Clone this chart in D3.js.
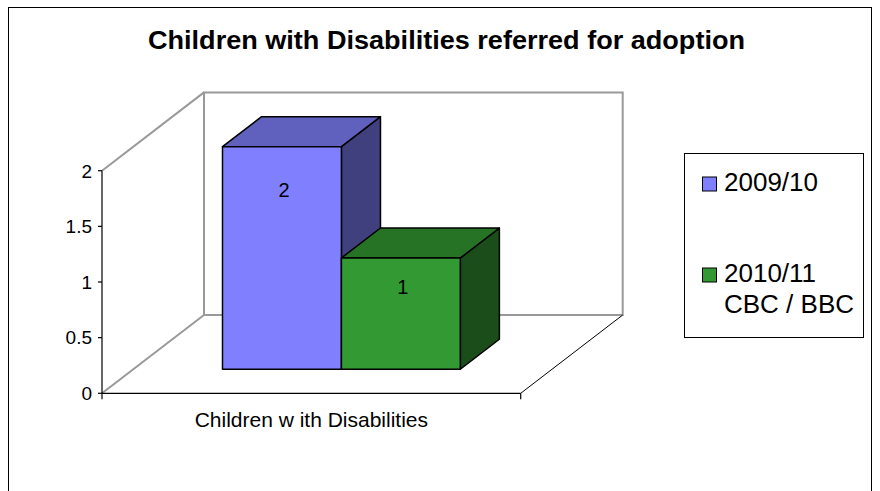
<!DOCTYPE html>
<html>
<head>
<meta charset="utf-8">
<script src="https://cdn.jsdelivr.net/npm/d3@7/dist/d3.min.js"></script>
<style>
  html, body { margin: 0; padding: 0; background: #fff; }
  svg { display: block; font-family: "Liberation Sans", Arial, sans-serif; }
</style>
</head>
<body>
<svg id="chart" width="880" height="491"></svg>
<script>
// ---- data ----
const title = "Children with Disabilities referred for adoption";
const categories = ["Children w ith Disabilities"];
const seriesNames = ["2009/10", "2010/11\nCBC / BBC"];
const seriesValues = [[2], [1]];
const yTicks = [0, 0.5, 1, 1.5, 2];
const yTickLabels = ["0", "0.5", "1", "1.5", "2"];

// ---- styles ----
const frontColors = ["#8080FF", "#339933"];
const topColors = ["#6060BF", "#267326"];
const sideColors = ["#40407F", "#1A4D1A"];

const svg = d3.select("#chart");

// outer chart border
svg.append("rect").attr("x", 8.5).attr("y", 7.5).attr("width", 863).attr("height", 500)
  .attr("fill", "none").attr("stroke", "#000").attr("stroke-width", 1);

// title
svg.append("text").attr("x", 446.5).attr("y", 49).attr("text-anchor", "middle")
  .attr("font-size", 26).attr("font-weight", "bold")
  .attr("textLength", 597).attr("lengthAdjust", "spacingAndGlyphs").text(title);

// 3D geometry
const xLeft = 102, xRight = 520.7;
const DX = 102, DY = -78.3; // full depth offset
const y = d3.scaleLinear().domain([0, 2]).range([393.3, 170.7]);
const x = d3.scaleBand().domain(categories).range([xLeft, xRight]);
const P = (px, py, f) => [px + f * DX, py + f * DY];
const line = d3.line();

const gray = "#999";
const yTop = y(yTicks[yTicks.length - 1]), y0 = y(0);
// back wall
const bw = [P(xLeft, yTop, 1), P(xRight, yTop, 1), P(xRight, y0, 1), P(xLeft, y0, 1)];
svg.append("path").attr("d", line(bw) + "Z").attr("fill", "none")
  .attr("stroke", gray).attr("stroke-width", 2);
// side wall top and floor left edges
svg.append("path").attr("d", line([[xLeft, yTop], P(xLeft, yTop, 1)]))
  .attr("stroke", gray).attr("stroke-width", 2).attr("fill", "none");
svg.append("path").attr("d", line([[xLeft, y0], P(xLeft, y0, 1)]))
  .attr("stroke", gray).attr("stroke-width", 2).attr("fill", "none");
// floor right edge
svg.append("path").attr("d", line([[xRight, y0], P(xRight, y0, 1)]))
  .attr("stroke", "#000").attr("stroke-width", 1).attr("fill", "none");

// axes
svg.append("path").attr("d", line([[xLeft, yTop], [xLeft, y0]]))
  .attr("stroke", "#000").attr("stroke-width", 1.2).attr("fill", "none");
svg.append("path").attr("d", line([[xLeft, y0], [xRight, y0]]))
  .attr("stroke", "#000").attr("stroke-width", 1.2).attr("fill", "none");
yTicks.forEach((t, i) => {
  svg.append("path").attr("d", line([[xLeft - 4, y(t)], [xLeft, y(t)]]))
    .attr("stroke", "#000").attr("stroke-width", 1.2);
  svg.append("text").attr("x", 92).attr("y", y(t)).attr("dy", "0.36em")
    .attr("text-anchor", "end").attr("font-size", 19).text(yTickLabels[i]);
});
[xLeft, xRight].forEach(px => {
  svg.append("path").attr("d", line([[px, y0], [px, y0 + 6]]))
    .attr("stroke", "#000").attr("stroke-width", 1.2);
});
categories.forEach(c => {
  svg.append("text").attr("x", x(c) + x.bandwidth() / 2).attr("y", 427)
    .attr("text-anchor", "middle").attr("font-size", 21).text(c);
});

// bars
const f0 = 0.307, f1 = 0.69;
categories.forEach((c, ci) => {
  const b0 = x(c), bwid = x.bandwidth();
  const xs = d3.scaleBand().domain(d3.range(seriesNames.length))
    .range([b0 + bwid * 0.213, b0 + bwid * 0.781]);
  seriesValues.forEach((vals, si) => {
    const v = vals[ci];
    const xa = xs(si), xb = xs(si) + xs.bandwidth();
    const yt = y(v), yb = y(0);
    const side = [P(xb, yb, f0), P(xb, yb, f1), P(xb, yt, f1), P(xb, yt, f0)];
    const top = [P(xa, yt, f0), P(xa, yt, f1), P(xb, yt, f1), P(xb, yt, f0)];
    const front = [P(xa, yb, f0), P(xb, yb, f0), P(xb, yt, f0), P(xa, yt, f0)];
    const g = svg.append("g").attr("stroke", "#000").attr("stroke-width", 1.5)
      .attr("stroke-linejoin", "round");
    g.append("path").attr("d", line(side) + "Z").attr("fill", sideColors[si]);
    g.append("path").attr("d", line(top) + "Z").attr("fill", topColors[si]);
    g.append("path").attr("d", line(front) + "Z").attr("fill", frontColors[si]);
    const fp = P((xa + xb) / 2 + 2, yt, f0);
    svg.append("text").attr("x", fp[0]).attr("y", fp[1] + 15 + 14 * v)
      .attr("dy", "0.36em").attr("text-anchor", "middle").attr("font-size", 20)
      .text(v);
  });
});

// legend
svg.append("rect").attr("x", 684.5).attr("y", 153.5).attr("width", 179).attr("height", 184)
  .attr("fill", "#fff").attr("stroke", "#000").attr("stroke-width", 1);
const legendY = [190.5, 281.5];
seriesNames.forEach((name, i) => {
  svg.append("rect").attr("x", 702.5).attr("y", legendY[i] - 13.5)
    .attr("width", 14).attr("height", 14).attr("fill", frontColors[i])
    .attr("stroke", "#000").attr("stroke-width", 1);
  name.split("\n").forEach((ln, j) => {
    svg.append("text").attr("x", 724).attr("y", legendY[i] + j * 31.5)
      .attr("font-size", 26).text(ln);
  });
});
</script>
</body>
</html>
